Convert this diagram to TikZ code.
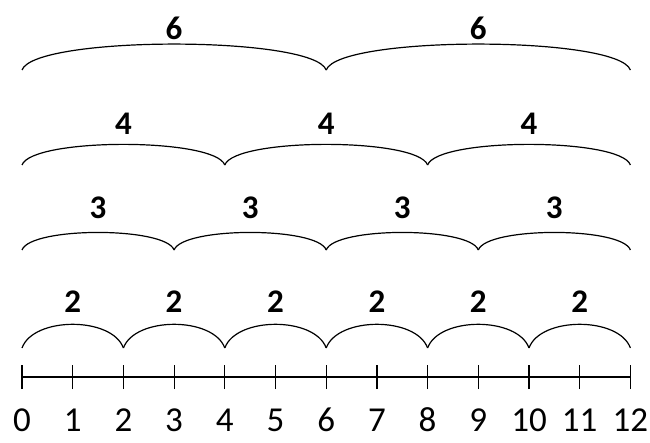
\documentclass[tikz,border=0pt]{standalone}
\usepackage{fontspec}
\setmainfont{Carlito}
\usetikzlibrary{positioning}

\begin{document}
\begin{tikzpicture}[
  x=1pt,y=1pt,
  axis/.style={line width=1.2pt},
  tickmark/.style={line width=1.2pt},
  num/.style={font=\fontsize{35}{40}\selectfont},
  grp/.style={font=\fontsize{33}{40}\selectfont\bfseries},
  hop/.style={line width=1.2pt,out=70,in=110,looseness=#1}
]
  \useasboundingbox (0,0) rectangle (650,442);
  % number line 0..12
  \foreach \i in {0,...,12} {
    \coordinate (t\i) at ({22+50.7*\i},65);
    \draw[tickmark] ([yshift=-12pt]t\i) -- ([yshift=12pt]t\i);
    \node[num] (n\i) at ({22+50.7*\i},22) {\i};
  }
  \draw[axis] (t0) -- (t12);
  % jumps: step / arc ends / label height / looseness
  \foreach \s/\y/\ly/\lo in {2/94/140/0.85, 3/192/234/0.42, 4/277/318/0.37, 6/372/414/0.31} {
    \pgfmathtruncatemacro\n{12/\s}
    \foreach \k in {1,...,\n} {
      \pgfmathtruncatemacro\a{(\k-1)*\s}
      \pgfmathtruncatemacro\b{\k*\s}
      \coordinate (r\s-\a) at ({22+50.7*\a},\y);
      \coordinate (r\s-\b) at ({22+50.7*\b},\y);
      \draw[hop=\lo] (r\s-\a) to (r\s-\b);
      \node[grp] (g\s-\k) at ({22+50.7*(\a+\b)/2},\ly) {\s};
    }
  }
\end{tikzpicture}
\end{document}
